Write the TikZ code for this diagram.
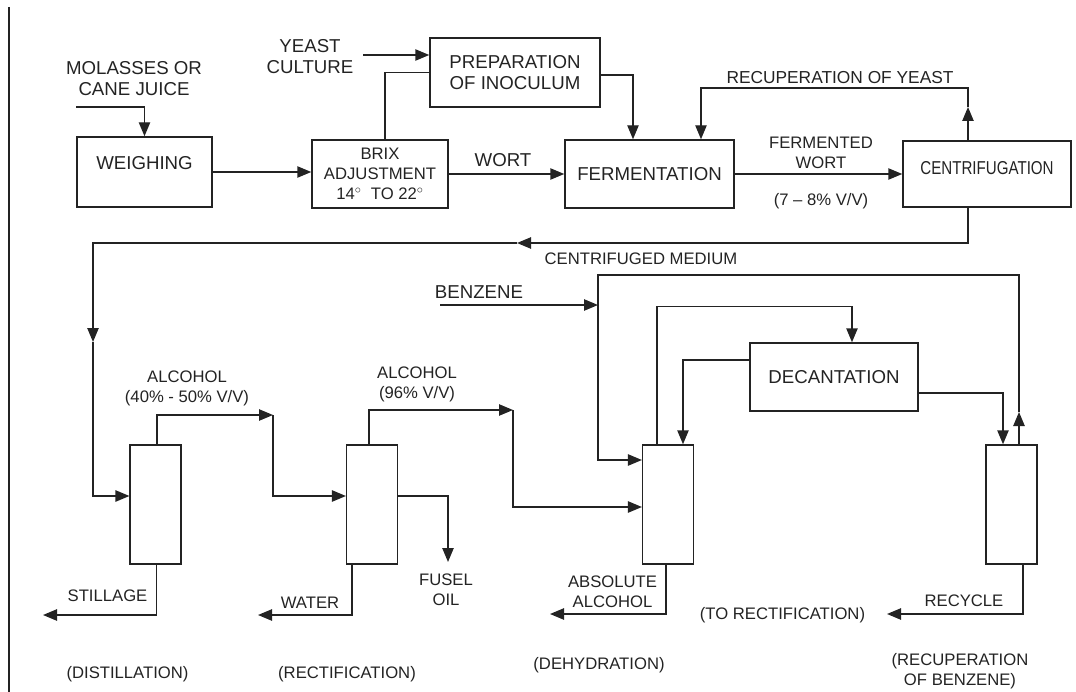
\documentclass[tikz,border=0pt]{standalone}
\usepackage{fontspec}
\setmainfont{Liberation Sans}
\usetikzlibrary{arrows.meta,calc}
\definecolor{ink}{RGB}{35,35,35}
\begin{document}
\begin{tikzpicture}[x=0.75pt,y=-0.75pt,
  line width=1.1pt, draw=ink, text=ink,
  big/.style={font=\fontsize{14}{15.75}\selectfont},
  small/.style={font=\fontsize{12.5}{15}\selectfont},
  one/.style={text height=9.2pt, text depth=0pt},
  lbl/.style={inner sep=0pt, align=center},
  box/.style={draw, inner sep=0pt, align=center},
  col/.style={draw, inner sep=0pt, minimum width=38pt, minimum height=89.25pt},
  arr/.style={-{Triangle[length=10.5pt,width=8.5pt]}}]
\useasboundingbox (0,0) rectangle (1076,692);
\draw (9,7) -- (9,692);

% ---- boxes
\node[box,big,one,text depth=13.5pt,minimum width=101.25pt,minimum height=52.5pt] (weigh) at (144.5,172) {WEIGHING};
\node[box,small,minimum width=102pt,minimum height=51pt] (brix) at (380,174) {BRIX\\ADJUSTMENT\\14${}^{\circ}$\ \ TO 22${}^{\circ}$};
\node[box,big,minimum width=127.5pt,minimum height=51.75pt] (prep) at (515,72.5) {PREPARATION\\OF INOCULUM};
\node[box,big,one,minimum width=126.75pt,minimum height=51pt] (ferm) at (649.5,174) {FERMENTATION};
\node[box,big,one,text depth=9pt,minimum width=126pt,minimum height=49.5pt] (centri) at (987,174) {\scalebox{0.81}[1]{CENTRIFUGATION}};
\node[box,big,one,minimum width=126pt,minimum height=51pt] (decant) at (834,377) {DECANTATION};
\node[col] (distill) at (155.5,504.5) {};
\node[col] (rect) at (372,504.5) {};
\node[col] (dehyd) at (668,504.5) {};
\node[col] (recup) at (1011.5,504.5) {};

% ---- labels
\node[lbl,big] (tmol) at (134,78.5) {MOLASSES OR\\CANE JUICE};
\node[lbl,big] (tyeast) at (310,57) {YEAST\\CULTURE};
\node[lbl,big,one] (twort) at (503,160) {WORT};
\node[lbl,small] (tfw) at (821,152.5) {FERMENTED\\WORT};
\node[lbl,small,one] (tfw2) at (821,199) {(7 – 8\% V/V)};
\node[lbl,one,font=\fontsize{13}{15}\selectfont] (tryeast) at (840,77) {RECUPERATION OF YEAST};
\node[lbl,small,one] (tcm) at (641,258) {CENTRIFUGED MEDIUM};
\node[lbl,big,one] (tbenz) at (479,292) {BENZENE};
\node[lbl,small] (talc1) at (187,388) {ALCOHOL\\(40\% - 50\% V/V)};
\node[lbl,small] (talc2) at (417,384) {ALCOHOL\\(96\% V/V)};
\node[lbl,small,one] (tstill) at (107.5,595) {STILLAGE};
\node[lbl,small,one] (twater) at (310,602) {WATER};
\node[lbl,small] (tfusel) at (446,590) {FUSEL\\OIL};
\node[lbl,small] (tabs) at (612.5,592) {ABSOLUTE\\ALCOHOL};
\node[lbl,small,one] (ttorect) at (782.5,613) {(TO RECTIFICATION)};
\node[lbl,small,one] (trecy) at (964,600) {RECYCLE};
\node[lbl,small,one] (tdist) at (127.5,672) {(DISTILLATION)};
\node[lbl,small,one] (trect) at (347,672) {(RECTIFICATION)};
\node[lbl,small,one] (tdehy) at (599,663) {(DEHYDRATION)};
\node[lbl,small] (trecb) at (960,671) {(RECUPERATION\\OF BENZENE)};

% ---- free ends and bends
\coordinate (mol) at (76,107);
\coordinate (yeast) at (363,55);
\coordinate (ryA) at (968,107);
\coordinate (ryB) at (701,88);
\coordinate (cmA) at (517,243);
\coordinate (cmB) at (93,342);
\coordinate (a1) at (273,415);
\coordinate (a2) at (513,410);
\coordinate (still) at (43,615);
\coordinate (water) at (258,615);
\coordinate (fusel) at (448,562);
\coordinate (benz) at (440,305);
\coordinate (bj) at (598,305);
\coordinate (rc) at (1019,412);
\coordinate (rtop) at (598,275);
\coordinate (abs) at (550,614);
\coordinate (recy) at (887,614);

% ---- connectors, top row
\draw[arr] (mol) -| (weigh.north);
\draw[arr] (weigh.east) -- (weigh.east -| brix.west);
\draw[arr] (yeast) -- (yeast -| prep.west);
\draw ($(brix.north)+(5,0)$) |- (prep.west);
\draw[arr] ($(prep.east)+(0,2.5)$) -| ($(ferm.north)+(-16.5,0)$);
\draw[arr] (brix.east) -- (ferm.west);
\draw[arr] (ferm.east) -- (centri.west);
\draw[arr] (centri.north -| ryA) -- (ryA);
\draw[arr] (ryA) |- (ryB) -- (ryB |- ferm.north);
\draw[arr] (centri.south -| ryA) |- (cmA);
\draw[arr] (cmA) -| (cmB);
\draw[arr] (cmB) |- ($(distill.west)+(0,-8.5)$);

% ---- distillation / rectification
\draw[arr] ($(distill.north)+(1.5,0)$) |- (a1);
\draw[arr] (a1) |- ($(rect.west)+(0,-8.5)$);
\draw[arr] ($(distill.south)+(1,0)$) |- (still);
\draw[arr] ($(rect.north)+(-3,0)$) |- (a2);
\draw[arr] (a2) |- ($(dehyd.west)+(0,2.5)$);
\draw[arr] ($(rect.east)+(0,-8.5)$) -| (fusel);
\draw[arr] ($(rect.south)+(-20,0)$) |- (water);

% ---- dehydration / benzene
\draw[arr] (benz) -- (bj);
\draw[arr] ($(recup.north)+(7.5,0)$) -- (rc);
\draw[arr] (rc) |- (rtop) |- ($(dehyd.west)+(0,-44.5)$);
\draw[arr] ($(dehyd.north)+(-11,0)$) |- ($(decant.north)+(18,-36)$) -- ($(decant.north)+(18,0)$);
\draw[arr] ($(decant.west)+(0,-17)$) -| ($(dehyd.north)+(15,0)$);
\draw[arr] ($(decant.east)+(0,16)$) -| ($(recup.north)+(-8.5,0)$);
\draw[arr] ($(dehyd.south)+(-2,0)$) |- (abs);
\draw[arr] ($(recup.south)+(11.5,0)$) |- (recy);
\end{tikzpicture}
\end{document}
